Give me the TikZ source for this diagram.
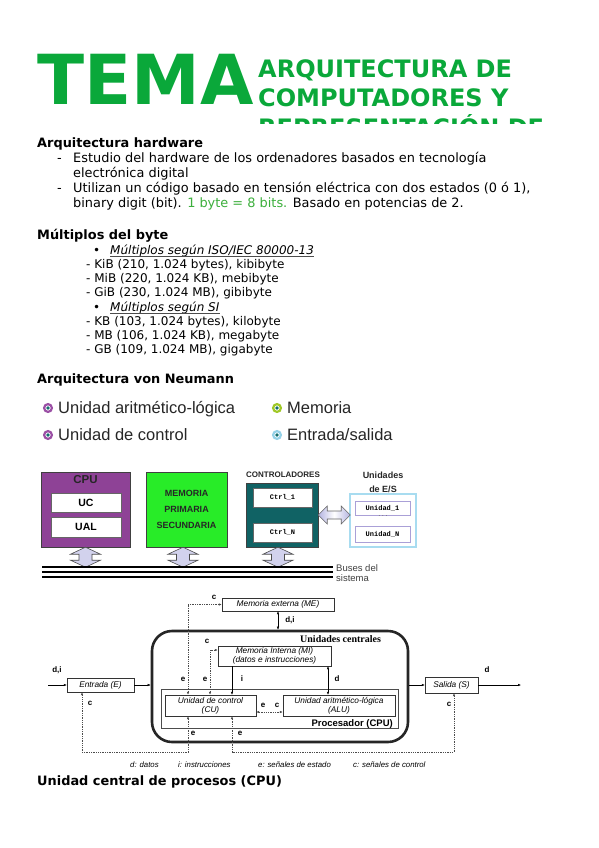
\documentclass[tikz,border=0pt]{standalone}
\usepackage{fontspec}
\setmainfont{DejaVu Sans}
\newfontfamily\arialf{Liberation Sans}
\newfontfamily\timesf{Liberation Serif}
\newfontfamily\courf{Liberation Mono}
\usetikzlibrary{positioning,arrows.meta}

\definecolor{temagreen}{RGB}{10,168,58}
\definecolor{bytegreen}{RGB}{60,175,60}
\definecolor{cpupurple}{RGB}{142,66,150}
\definecolor{memgreen}{RGB}{40,236,40}
\definecolor{ctrlteal}{RGB}{16,98,100}
\definecolor{esblue}{RGB}{168,220,240}
\definecolor{unitlav}{RGB}{170,160,215}
\definecolor{arrlav}{RGB}{180,180,225}
\definecolor{dotteal}{RGB}{20,110,110}
\definecolor{ringpurple}{RGB}{155,80,165}
\definecolor{ringgreen}{RGB}{160,200,40}
\definecolor{ringblue}{RGB}{150,210,232}

\begin{document}
\begin{tikzpicture}[x=1pt,y=-1pt,>={Latex[length=3pt,width=2.4pt]},
  txt/.style={anchor=base west,inner sep=0pt,font=\fontsize{12.9}{15}\selectfont},
  headtxt/.style={txt,font=\fontsize{12.9}{15}\selectfont\bfseries},
  subtxt/.style={txt,font=\fontsize{12}{14}\selectfont},
  titletxt/.style={txt,text=temagreen,font=\fontsize{24}{29}\selectfont\bfseries},
  legtxt/.style={txt,text=black!85,font=\arialf\fontsize{16.5}{18}\selectfont},
  hwbox/.style={draw=black!75,inner sep=0pt,font=\arialf\bfseries},
  innerbox/.style={draw=black!60,fill=white,inner sep=0pt},
  ubox/.style={draw=black!80,fill=white,inner sep=0pt,align=center,
    font=\arialf\itshape\fontsize{8.3}{9}\selectfont},
  sig/.style={inner sep=0pt,font=\arialf\bfseries\fontsize{8}{9}\selectfont},
  ctl/.style={draw=black!70,line width=0.5pt,dash pattern=on 1.3pt off 1pt},
  blockarr/.style={draw=black!70,line width=0.6pt,fill=arrlav!60}
]
\useasboundingbox (0,0) rectangle (599,848);
\fill[white] (0,0) rectangle (599,848);

% title
\node[txt,text=temagreen,font=\fontsize{69}{69}\selectfont\bfseries] (tema) at (37,105) {TEMA};
\node[titletxt] (tit1) at (258,78) {ARQUITECTURA DE};
\node[titletxt] (tit2) at (258,107) {COMPUTADORES Y};
\begin{scope}
  \clip (250,115) rectangle (599,124);
  \node[titletxt] (tit3) at (258,136) {REPRESENTACIÓN DE};
\end{scope}

% arquitectura hardware
\node[headtxt] (hw) at (37,147) {Arquitectura hardware};
\foreach \y/\n in {162/a,192/b} {\node[txt] (dash\n) at (57,\y) {-};}
\node[txt] (hw1) at (73,162) {Estudio del hardware de los ordenadores basados en tecnología};
\node[txt] (hw2) at (73,177) {electrónica digital};
\node[txt] (hw3) at (73,192) {Utilizan un código basado en tensión eléctrica con dos estados (0 ó 1),};
\node[txt] (hw4) at (73,207) {binary digit (bit). \textcolor{bytegreen}{1 byte = 8 bits.} Basado en potencias de 2.};

% multiplos
\node[headtxt] (mb) at (37,239) {Múltiplos del byte};
\node[subtxt] (bulA) at (93,254) {•};
\node[subtxt,font=\fontsize{12}{14}\selectfont\itshape] (isoA) at (110,254) {Múltiplos según ISO/IEC 80000-13};
\node[subtxt] (kib) at (86,268) {- KiB (210, 1.024 bytes), kibibyte};
\node[subtxt] (mib) at (86,282) {- MiB (220, 1.024 KB), mebibyte};
\node[subtxt] (gib) at (86,296) {- GiB (230, 1.024 MB), gibibyte};
\node[subtxt] (bulB) at (93,311) {•};
\node[subtxt,font=\fontsize{12}{14}\selectfont\itshape] (siB) at (110,311) {Múltiplos según SI};
\node[subtxt] (kb) at (86,325) {- KB (103, 1.024 bytes), kilobyte};
\node[subtxt] (mbb) at (86,339) {- MB (106, 1.024 KB), megabyte};
\node[subtxt] (gb) at (86,353) {- GB (109, 1.024 MB), gigabyte};
\foreach \n in {isoA,siB} {
  \draw[line width=0.6pt,black!70] ([yshift=-1.8pt]\n.base west) -- ([yshift=-1.8pt]\n.base east);
}

% von Neumann
\node[headtxt] (vn) at (37,383) {Arquitectura von Neumann};
\foreach \x/\y/\col/\t/\n in {48/408/ringpurple/Unidad aritmético-lógica/alu,
    48/435/ringpurple/Unidad de control/uc,
    277/408/ringgreen/Memoria/mem,
    277/435/ringblue/Entrada\slash salida/es} {
  \draw[\col,line width=2.2pt] (\x,\y) circle (3.9pt);
  \fill[dotteal] (\x,\y) circle (1.8pt);
  \node[legtxt] (leg\n) at (\x+10,\y+5) {\t};
}

% bloques hardware
\node[hwbox,fill=cpupurple,minimum width=89pt,minimum height=75pt] (cpu) at (85.5,509.5) {};
\node[font=\arialf\bfseries\fontsize{11.5}{12}\selectfont,text=black!85] (cpulab) at (85.5,480) {CPU};
\node[innerbox,minimum width=70pt,minimum height=19pt,font=\arialf\bfseries\fontsize{10.5}{11}\selectfont] (uc) at (86,502.5) {UC};
\node[innerbox,minimum width=70pt,minimum height=20pt,font=\arialf\bfseries\fontsize{10.5}{11}\selectfont] (ual) at (86,527) {UAL};
\node[hwbox,fill=memgreen,minimum width=81pt,minimum height=75pt,align=center,
  font=\arialf\bfseries\fontsize{9}{16}\selectfont,text=black!85] (mem) at (186.5,509.5) {MEMORIA\\PRIMARIA\\SECUNDARIA};
\node[font=\arialf\bfseries\fontsize{8}{9}\selectfont,text=black!85] (ctrllab) at (283,475) {CONTROLADORES};
\node[hwbox,fill=ctrlteal,minimum width=72pt,minimum height=64pt] (ctrl) at (282,515) {};
\node[innerbox,minimum width=59pt,minimum height=19pt,font=\courf\bfseries\fontsize{7}{8}\selectfont] (ctrlA) at (282.5,497.5) {Ctrl\_1};
\node[innerbox,minimum width=59pt,minimum height=19pt,font=\courf\bfseries\fontsize{7}{8}\selectfont] (ctrlN) at (282.5,532.5) {Ctrl\_N};
\node[inner sep=0pt,font=\arialf\bfseries\fontsize{9}{10}\selectfont,text=black!85] (eslabA) at (383,475) {Unidades};
\node[inner sep=0pt,font=\arialf\bfseries\fontsize{9}{10}\selectfont,text=black!85] (eslabB) at (383,489) {de E/S};
\node[draw=esblue,line width=1.8pt,fill=white,minimum width=66pt,minimum height=53pt] (es) at (383,520.5) {};
\node[draw=unitlav,fill=white,inner sep=0pt,minimum width=55pt,minimum height=14pt,font=\courf\bfseries\fontsize{7}{8}\selectfont] (esA) at (382.5,508) {Unidad\_1};
\node[font=\courf\fontsize{6}{6}\selectfont,text=black!60] (esdots) at (383,516) {...};
\node[draw=unitlav,fill=white,inner sep=0pt,minimum width=55pt,minimum height=16pt,font=\courf\bfseries\fontsize{7}{8}\selectfont] (esN) at (382.5,534) {Unidad\_N};

% flechas de bus
\foreach \n/\dx in {cpu/0,mem/-3.5,ctrl/-4} {
  \draw[blockarr] ([xshift=\dx pt]\n.south) -- ++(15,7) -- ++(-8.5,0) -- ++(0,6) -- ++(8.5,0)
    -- ++(-15,7) -- ++(-15,-7) -- ++(8.5,0) -- ++(0,-6) -- ++(-8.5,0) -- cycle;
}
\draw[draw=black!60,line width=0.6pt,left color=arrlav,right color=arrlav,middle color=white]
  (ctrl.east) -- ++(9,-9) -- ++(0,5) -- ++(14,0) -- ++(0,-5) -- ++(9,9)
  -- ++(-9,9) -- ++(0,-5) -- ++(-14,0) -- ++(0,5) -- cycle;
\foreach \y in {567,572,577} {\draw[line width=2pt] (42,\y) -- (333,\y);}
\node[anchor=west,inner sep=0pt,align=left,text=black!75,font=\arialf\fontsize{9.5}{10.5}\selectfont] (buses) at (336,573) {Buses del\\sistema};

% unidades centrales
\node[draw=black!85,line width=2.6pt,rounded corners=20pt,minimum width=256pt,minimum height=111pt] (ucen) at (280,686.5) {};
\node[anchor=base west,inner sep=0pt,font=\timesf\bfseries\fontsize{10}{11}\selectfont] (ucenlab) at (300,642) {Unidades centrales};
\node[draw=black!70,minimum width=237pt,minimum height=39pt] (proc) at (279.5,708.5) {};
\node[anchor=base east,inner sep=0pt,font=\arialf\bfseries\fontsize{9.5}{10}\selectfont] (proclab) at (393,726.5) {Procesador (CPU)};
\node[ubox,minimum width=112pt,minimum height=13pt] (ME) at (278,604.5) {Memoria externa (ME)};
\node[ubox,minimum width=113pt,minimum height=20pt] (MI) at (274.5,656) {Memoria Interna (MI)\\(datos e instrucciones)};
\node[ubox,minimum width=91pt,minimum height=21pt] (CU) at (210.5,705.5) {Unidad de control\\(CU)};
\node[ubox,minimum width=112pt,minimum height=21pt] (ALU) at (339,705.5) {Unidad aritmético-lógica\\(ALU)};
\node[ubox,minimum width=67pt,minimum height=14pt] (E) at (100.5,685) {Entrada (E)};
\node[ubox,minimum width=53pt,minimum height=16pt] (S) at (451.5,685) {Salida (S)};

\coordinate (cE) at (188,0);
\coordinate (cM) at (210,0);
\coordinate (cI) at (232,0);
\coordinate (cD) at (328,0);
\coordinate (cEnt) at (82,0);
\coordinate (cSal) at (454,0);
\coordinate (lowy) at (0,752);
\coordinate (din) at (48,685);
\coordinate (dout) at (521,685);

\draw[<->] (ME.south) -- (ME.south |- ucen.north);
\draw[ctl,<->] (ME.west) -| (cE |- CU.north);
\draw[ctl,<->] ([yshift=6pt]MI.west) -| (cM |- CU.north);
\draw[->] (MI.south -| cI) -- (CU.north -| cI);
\draw[<->] (MI.south -| cD) -- (ALU.north -| cD);
\draw[ctl,<->] ([yshift=-6.5pt]CU.east) -- ([yshift=-6.5pt]ALU.west);
\draw[->] (din) -- (E);
\draw[->] (E) -- (E.east -| ucen.west);
\draw[->] (S.west -| ucen.east) -- (S);
\draw[->] (S) -- (dout);
\draw[ctl,<->] (CU.south -| cE) -- (cE |- lowy) -| (E.south -| cEnt);
\draw[ctl,<->] (CU.south -| cI) -- (cI |- lowy) -| (S.south -| cSal);

% etiquetas
\foreach \x/\y/\t/\n in {214/597/c/a, 290/620/{d,i}/b, 207/641/c/c, 183/679/e/d, 205/679/e/e,
    242/679/i/f, 337/679/d/g, 263/705/e/h, 277/705/c/i, 193/733/e/j, 240/733/e/k,
    57/670/{d,i}/l, 90/703/c/m, 449/704/c/n, 487/670/d/o} {
  \node[sig] (sig\n) at (\x,\y) {\t};
}
\foreach \x/\t/\n in {130/d: datos/a, 178/i: instrucciones/b, 258/e: señales de estado/c, 353/c: señales de control/d} {
  \node[anchor=base west,inner sep=0pt,font=\arialf\itshape\fontsize{7.8}{9}\selectfont] (key\n) at (\x,767) {\t};
}

\node[headtxt] (cpuh) at (37,785) {Unidad central de procesos (CPU)};
\end{tikzpicture}
\end{document}
